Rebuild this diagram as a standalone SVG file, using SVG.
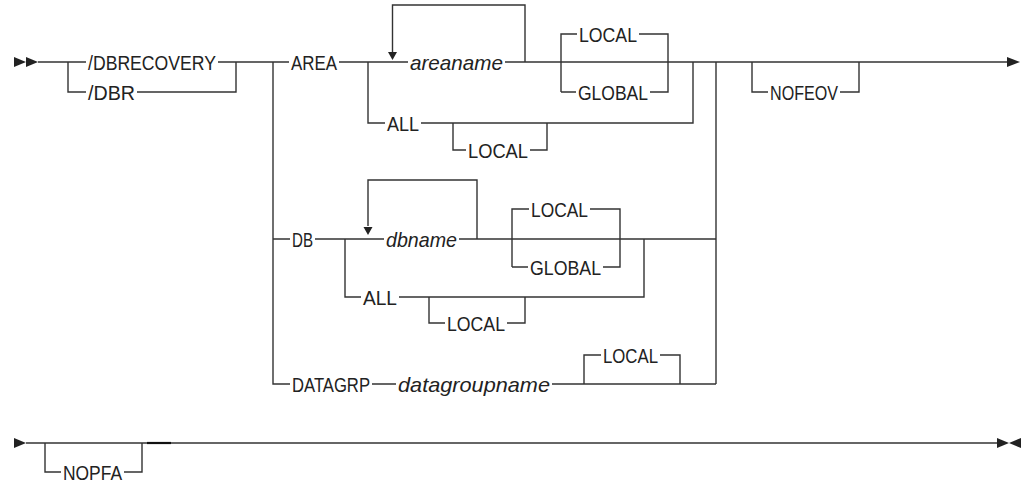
<svg xmlns="http://www.w3.org/2000/svg" width="1021" height="484" viewBox="0 0 1021 484">
<style>
.ln{fill:none;stroke:#333;stroke-width:1.4;stroke-linecap:butt}
.ah{fill:#222;stroke:none}
text{font-family:"Liberation Sans",Arial,sans-serif;font-size:21px;fill:#222}
.v{font-style:italic}
</style>
<rect width="1021" height="484" fill="#fff"/>
<g id="connectors">
<polygon class="ah" points="14,57 26,62 14,67"/>
<polygon class="ah" points="26,57 38,62 26,67"/>
<path class="ln" d="M38,62H86 M218,62H289 M68,62V92H86 M137,92H236V62"/>
<path class="ln" d="M273,62V384H290 M273,239H290"/>
<path class="ln" d="M339,62H408 M505,62H1007"/>
<path class="ln" d="M392.5,52V5H525V62"/>
<polygon class="ah" points="388,52 397,52 392.5,60"/>
<path class="ln" d="M368,62V123H385 M421,123H693V62"/>
<path class="ln" d="M453,123V150H466 M530,150H547V123"/>
<path class="ln" d="M561,92V34H577 M639,34H668V92H650 M576,92H561"/>
<path class="ln" d="M716,62V384"/>
<path class="ln" d="M752,62V92H768 M840,92H859V62"/>
<polygon class="ah" points="1007,57 1020,62 1007,67"/>
<path class="ln" d="M315,239H384 M459,239H716"/>
<path class="ln" d="M368,226V180H477V239"/>
<polygon class="ah" points="363.5,227 372.5,227 368,235"/>
<path class="ln" d="M345,239V297H361 M399,297H644V239"/>
<path class="ln" d="M429,297V323H445 M507,323H525V297"/>
<path class="ln" d="M512,267V209H529 M590,209H620V267H603 M528,267H512"/>
<path class="ln" d="M372,384H396 M552,384H716"/>
<path class="ln" d="M584,384V355H601 M660,355H680V384"/>
<polygon class="ah" points="14,438 26,443 14,448"/>
<path class="ln" d="M26,443H997"/>
<path class="ln" d="M147,443H171" style="stroke-width:2.2;stroke:#111"/>
<path class="ln" d="M45,443V472H61 M124,472H142V443"/>
<polygon class="ah" points="997,438 1009,443 997,448"/>
<polygon class="ah" points="1021,438 1009,443 1021,448"/>
</g>
<g id="n-dbrecovery"><text x="88" y="69.5" textLength="128" lengthAdjust="spacingAndGlyphs">/DBRECOVERY</text></g>
<g id="n-dbr"><text x="88" y="99.5" textLength="47" lengthAdjust="spacingAndGlyphs">/DBR</text></g>
<g id="n-area"><text x="291" y="69.5" textLength="46" lengthAdjust="spacingAndGlyphs">AREA</text></g>
<g id="n-areaname"><text class="v" x="410" y="69.5" textLength="93" lengthAdjust="spacingAndGlyphs">areaname</text></g>
<g id="n-area-local"><text x="579" y="41.5" textLength="58" lengthAdjust="spacingAndGlyphs">LOCAL</text></g>
<g id="n-area-global"><text x="578" y="99.5" textLength="70" lengthAdjust="spacingAndGlyphs">GLOBAL</text></g>
<g id="n-area-all"><text x="387" y="130.5" textLength="32" lengthAdjust="spacingAndGlyphs">ALL</text></g>
<g id="n-area-all-local"><text x="468" y="157.5" textLength="60" lengthAdjust="spacingAndGlyphs">LOCAL</text></g>
<g id="n-nofeov"><text x="770" y="99.5" textLength="68" lengthAdjust="spacingAndGlyphs">NOFEOV</text></g>
<g id="n-db"><text x="292" y="246.5" textLength="21" lengthAdjust="spacingAndGlyphs">DB</text></g>
<g id="n-dbname"><text class="v" x="386" y="246.5" textLength="71" lengthAdjust="spacingAndGlyphs">dbname</text></g>
<g id="n-db-local"><text x="531" y="216.5" textLength="57" lengthAdjust="spacingAndGlyphs">LOCAL</text></g>
<g id="n-db-global"><text x="530" y="274.5" textLength="71" lengthAdjust="spacingAndGlyphs">GLOBAL</text></g>
<g id="n-db-all"><text x="363" y="304.5" textLength="34" lengthAdjust="spacingAndGlyphs">ALL</text></g>
<g id="n-db-all-local"><text x="447" y="330.5" textLength="58" lengthAdjust="spacingAndGlyphs">LOCAL</text></g>
<g id="n-datagrp"><text x="292" y="391.5" textLength="78" lengthAdjust="spacingAndGlyphs">DATAGRP</text></g>
<g id="n-datagroupname"><text class="v" x="398" y="391.5" textLength="152" lengthAdjust="spacingAndGlyphs">datagroupname</text></g>
<g id="n-datagrp-local"><text x="603" y="362.5" textLength="55" lengthAdjust="spacingAndGlyphs">LOCAL</text></g>
<g id="n-nopfa"><text x="63" y="479.5" textLength="59" lengthAdjust="spacingAndGlyphs">NOPFA</text></g>
</svg>
